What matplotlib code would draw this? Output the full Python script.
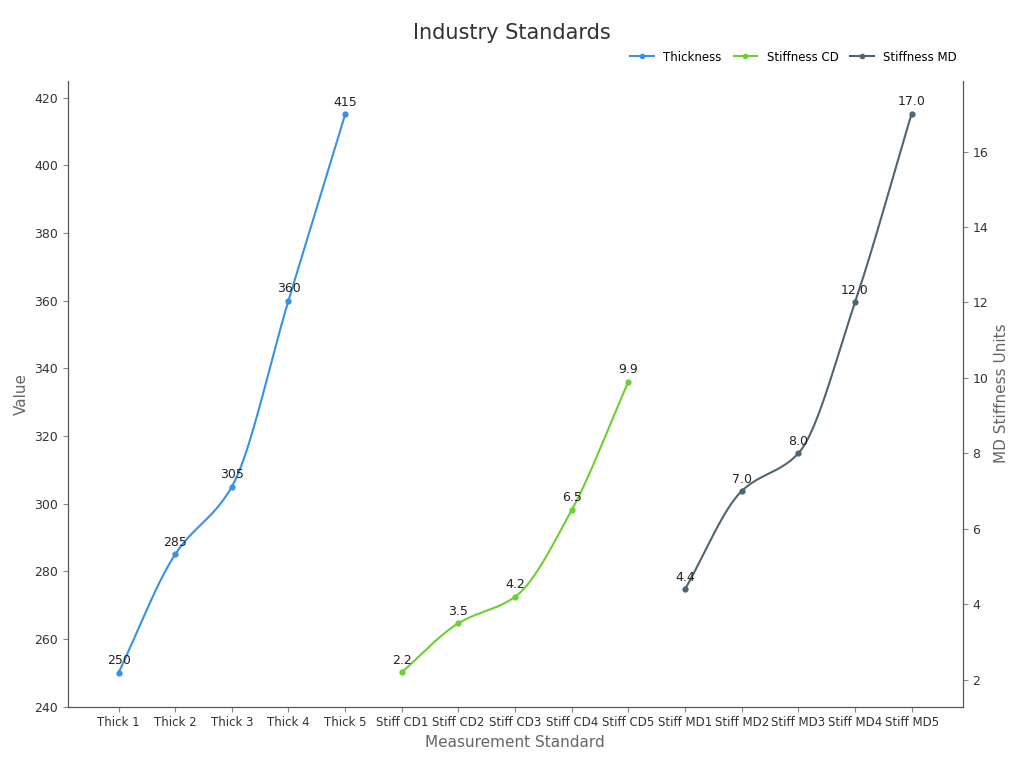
import numpy as np
import matplotlib.pyplot as plt

categories = ["Thick 1", "Thick 2", "Thick 3", "Thick 4", "Thick 5",
              "Stiff CD1", "Stiff CD2", "Stiff CD3", "Stiff CD4", "Stiff CD5",
              "Stiff MD1", "Stiff MD2", "Stiff MD3", "Stiff MD4", "Stiff MD5"]
thickness = [250, 285, 305, 360, 415]
stiff_cd = [2.2, 3.5, 4.2, 6.5, 9.9]
stiff_md = [4.4, 7.0, 8.0, 12.0, 17.0]


def smooth(x, y, n=40):
    # monotone cubic (Fritsch-Carlson) for the drawn curve only
    x = np.asarray(x, float); y = np.asarray(y, float)
    h = np.diff(x); d = np.diff(y) / h
    m = np.zeros_like(y)
    m[0], m[-1] = d[0], d[-1]
    for i in range(1, len(y) - 1):
        m[i] = 0 if d[i-1] * d[i] <= 0 else 2 / (1/d[i-1] + 1/d[i])
    xs, ys = [], []
    for i in range(len(h)):
        t = np.linspace(0, 1, n)
        h00 = 2*t**3 - 3*t**2 + 1; h10 = t**3 - 2*t**2 + t
        h01 = -2*t**3 + 3*t**2; h11 = t**3 - t**2
        xs.append(x[i] + t*h[i])
        ys.append(h00*y[i] + h10*h[i]*m[i] + h01*y[i+1] + h11*h[i]*m[i+1])
    return np.concatenate(xs), np.concatenate(ys)


fig, ax = plt.subplots(figsize=(10.24, 7.68), dpi=100)
fig.subplots_adjust(left=0.066, right=0.94, top=0.895, bottom=0.08)
ax2 = ax.twinx()

c1, c2, c3 = "#3592e6", "#6bd12e", "#4f6672"
xt = np.arange(0, 5); xc = np.arange(5, 10); xm = np.arange(10, 15)

sx, sy = smooth(xt, thickness)
ax.plot(sx, sy, color=c1, lw=1.5)
ax.plot(xt, thickness, "o", color=c1, ms=3.5)
for x, v in zip(xt, thickness):
    ax.annotate(f"{v}", (x, v), xytext=(0, 4), textcoords="offset points",
                ha="center", va="bottom", fontsize=9, color="#222222")

for xs_, vals, c in [(xc, stiff_cd, c2), (xm, stiff_md, c3)]:
    sx, sy = smooth(xs_, vals)
    ax2.plot(sx, sy, color=c, lw=1.5)
    ax2.plot(xs_, vals, "o", color=c, ms=3.5)
    for x, v in zip(xs_, vals):
        ax2.annotate(f"{v:.1f}", (x, v), xytext=(0, 4), textcoords="offset points",
                     ha="center", va="bottom", fontsize=9, color="#222222")

ax.set_ylim(240, 425)
ax2.set_ylim(1.29, 17.88)
ax.set_xlim(-0.9, 14.9)
ax.set_xticks(range(len(categories)))
ax.set_xticklabels(categories, fontsize=8.5)
ax.set_yticks(range(240, 421, 20))
ax2.set_yticks(range(2, 17, 2))
for a in (ax, ax2):
    a.tick_params(labelsize=9, colors="#333333")
    a.tick_params(axis="both", color="#888888")
    a.spines["top"].set_visible(False)
    for s in ("left", "right", "bottom"):
        a.spines[s].set_color("#555555")
ax.tick_params(axis="x", labelsize=8.5)
ax.set_xlabel("Measurement Standard", fontsize=11, color="#666666")
ax.set_ylabel("Value", fontsize=11, color="#666666")
ax2.set_ylabel("MD Stiffness Units", fontsize=11, color="#666666")
fig.suptitle("Industry Standards", fontsize=15, color="#333333", y=0.97)

handles = [plt.Line2D([], [], color=c, lw=1.5, marker="o", ms=3) for c in (c1, c2, c3)]
fig.legend(handles, ["Thickness", "Stiffness CD", "Stiffness MD"], loc="upper right",
           bbox_to_anchor=(0.945, 0.948), ncol=3, frameon=False, fontsize=8.5,
           handlelength=2, columnspacing=1.0)

fig.savefig("out.png", dpi=100)
